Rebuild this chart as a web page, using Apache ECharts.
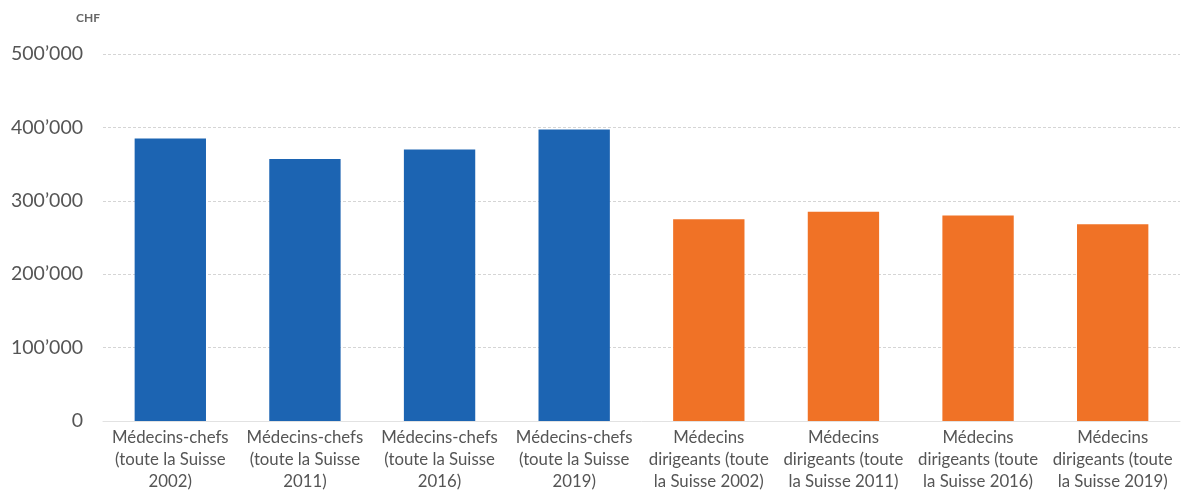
<!DOCTYPE html>
<html><head><meta charset="utf-8">
<script src="https://cdn.jsdelivr.net/npm/echarts@6/dist/echarts.min.js"></script>
<style>html,body{margin:0;padding:0;background:#fff}#c{width:1192px;height:502px}</style>
</head><body><div id="c"></div>
<script>
const categories = [
  "Médecins-chefs\n(toute la Suisse\n2002)",
  "Médecins-chefs\n(toute la Suisse\n2011)",
  "Médecins-chefs\n(toute la Suisse\n2016)",
  "Médecins-chefs\n(toute la Suisse\n2019)",
  "Médecins\ndirigeants (toute\nla Suisse 2002)",
  "Médecins\ndirigeants (toute\nla Suisse 2011)",
  "Médecins\ndirigeants (toute\nla Suisse 2016)",
  "Médecins\ndirigeants (toute\nla Suisse 2019)"
];
const values = [385000, 357000, 370000, 397000, 275000, 285000, 280000, 268000];
const groupColors = ["#1c64b2","#1c64b2","#1c64b2","#1c64b2","#f07226","#f07226","#f07226","#f07226"];
const yTicks = [0, 100000, 200000, 300000, 400000, 500000];

const chart = echarts.init(document.getElementById('c'));
chart.setOption({
  animation: false,
  textStyle: {fontFamily: 'Lato'},
  grid: {left: 103, right: 12, top: 54, bottom: 81},
  xAxis: {
    type: 'category', data: categories,
    axisTick: {show: false},
    axisLine: {lineStyle: {color: '#e2e2e2', width: 1}},
    axisLabel: {color: '#555', fontSize: 16.8, lineHeight: 22, margin: 6, interval: 0, fontFamily: 'Lato'}
  },
  yAxis: {
    type: 'value', min: yTicks[0], max: yTicks[yTicks.length-1], interval: 100000,
    name: 'CHF', nameLocation: 'end', nameGap: 30,
    nameTextStyle: {color: '#666', fontSize: 12, fontWeight: 'bold', align: 'right', padding: [0, 3, 0, 0]},
    axisLine: {show: false}, axisTick: {show: false},
    splitLine: {lineStyle: {color: '#d5d5d5', type: [3, 2], width: 1}},
    axisLabel: {color: '#555', fontSize: 19.5, margin: 20,
      formatter: v => v === 0 ? '0' : String(v).replace(/\B(?=(\d{3})+(?!\d))/g, '\u2019')}
  },
  series: [{
    type: 'bar', barWidth: '53%',
    data: values.map((v, i) => ({value: v, itemStyle: {color: groupColors[i]}}))
  }]
});
</script></body></html>
